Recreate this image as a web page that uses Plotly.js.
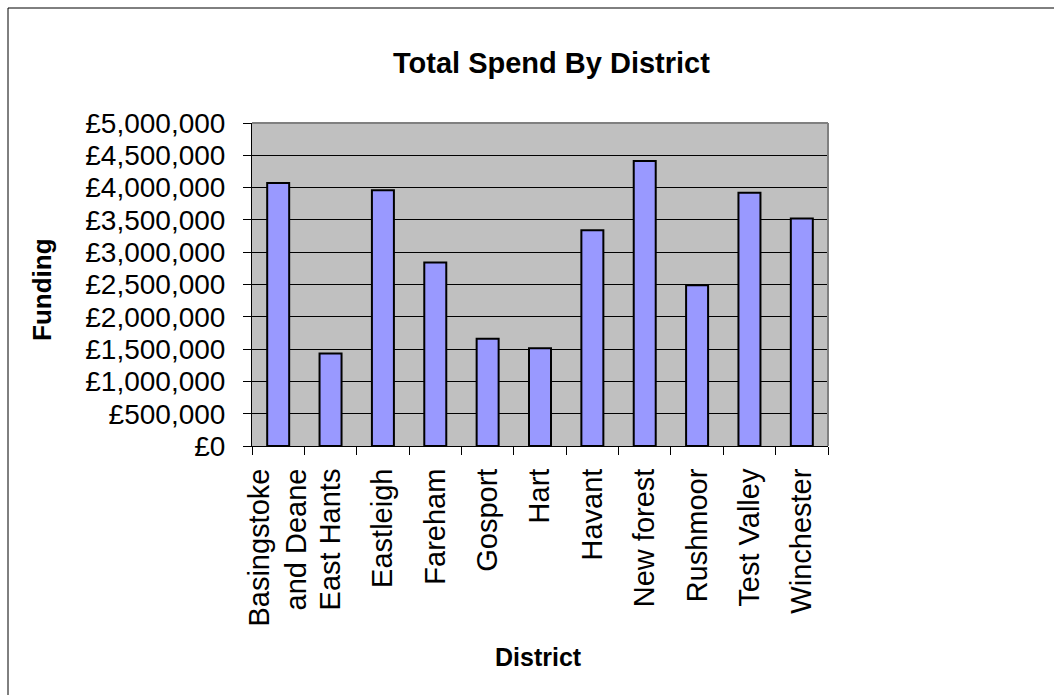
<!DOCTYPE html>
<html>
<head>
<meta charset="utf-8">
<script src="https://cdn.plot.ly/plotly-3.0.1.min.js"></script>
<style>html,body{margin:0;padding:0;background:#fff;}#chart{width:1054px;height:695px;}</style>
</head>
<body>
<div id="chart"></div>
<script>
const districts = ["Basingstoke<br>and Deane","East Hants","Eastleigh","Fareham","Gosport","Hart","Havant","New forest","Rushmoor","Test Valley","Winchester"];
const funding = [4070000,1430000,3960000,2840000,1660000,1515000,3340000,4410000,2490000,3920000,3520000];
const yTickVals = [0,500000,1000000,1500000,2000000,2500000,3000000,3500000,4000000,4500000,5000000];
const yTickText = yTickVals.map(v => "£" + v.toLocaleString("en-GB"));

const FONT = "Liberation Sans, Arial, sans-serif";
const L = 252, R = 828, T = 123, B = 446;
const W = 1054, H = 695;
const pw = R - L, ph = B - T;
function px(x){return (x - L)/pw;}
function py(y){return (B - y)/ph;}

const trace = {
  type: "bar",
  x: districts,
  y: funding,
  marker: {color: "#9999FF", line: {color: "#000000", width: 2}},
  hoverinfo: "none"
};

const layout = {
  width: W, height: H,
  margin: {l: L, r: W - R, t: T, b: H - B, pad: 0},
  paper_bgcolor: "#ffffff",
  plot_bgcolor: "#C0C0C0",
  showlegend: false,
  bargap: 0.58,
  font: {family: FONT, color: "#000"},
  xaxis: {
    type: "category",
    tickson: "boundaries",
    ticks: "outside", ticklen: 8, tickcolor: "#000", tickwidth: 1,
    tickangle: -90,
    ticklabelstandoff: 10,
    tickfont: {family: FONT, size: 29, color: "#000"},
    showline: true, linecolor: "#000", linewidth: 1,
    showgrid: false, zeroline: false,
    fixedrange: true
  },
  yaxis: {
    range: [0, 5000000],
    tickmode: "array",
    tickvals: yTickVals,
    ticktext: yTickText,
    ticks: "outside", ticklen: 8, tickcolor: "#000", tickwidth: 1,
    ticklabelstandoff: 12,
    tickfont: {family: FONT, size: 28, color: "#000"},
    showline: true, linecolor: "#000", linewidth: 1,
    showgrid: true, gridcolor: "#000", gridwidth: 1,
    zeroline: false,
    fixedrange: true
  },
  shapes: [
    {type: "line", xref: "paper", yref: "paper", x0: 0, x1: 1, y0: 1, y1: 1, line: {color: "#808080", width: 2}},
    {type: "line", xref: "paper", yref: "paper", x0: 1, x1: 1, y0: 0, y1: 1, line: {color: "#808080", width: 2}},
    {type: "line", xref: "paper", yref: "paper", x0: px(8), x1: px(1060), y0: py(8), y1: py(8), line: {color: "#000", width: 1}},
    {type: "line", xref: "paper", yref: "paper", x0: px(8), x1: px(8), y0: py(8), y1: py(700), line: {color: "#000", width: 1}}
  ],
  annotations: [
    {text: "<b>Total Spend By District</b>", xref: "paper", yref: "paper", x: px(551), y: py(63), showarrow: false, xanchor: "center", yanchor: "middle", font: {family: FONT, size: 29, color: "#000"}},
    {text: "<b>Funding</b>", xref: "paper", yref: "paper", x: px(42), y: py(290), showarrow: false, textangle: -90, xanchor: "center", yanchor: "middle", font: {family: FONT, size: 26, color: "#000"}},
    {text: "<b>District</b>", xref: "paper", yref: "paper", x: px(538), y: py(657), showarrow: false, xanchor: "center", yanchor: "middle", font: {family: FONT, size: 25, color: "#000"}}
  ]
};

Plotly.newPlot("chart", [trace], layout, {displayModeBar: false, staticPlot: true});
</script>
</body>
</html>
